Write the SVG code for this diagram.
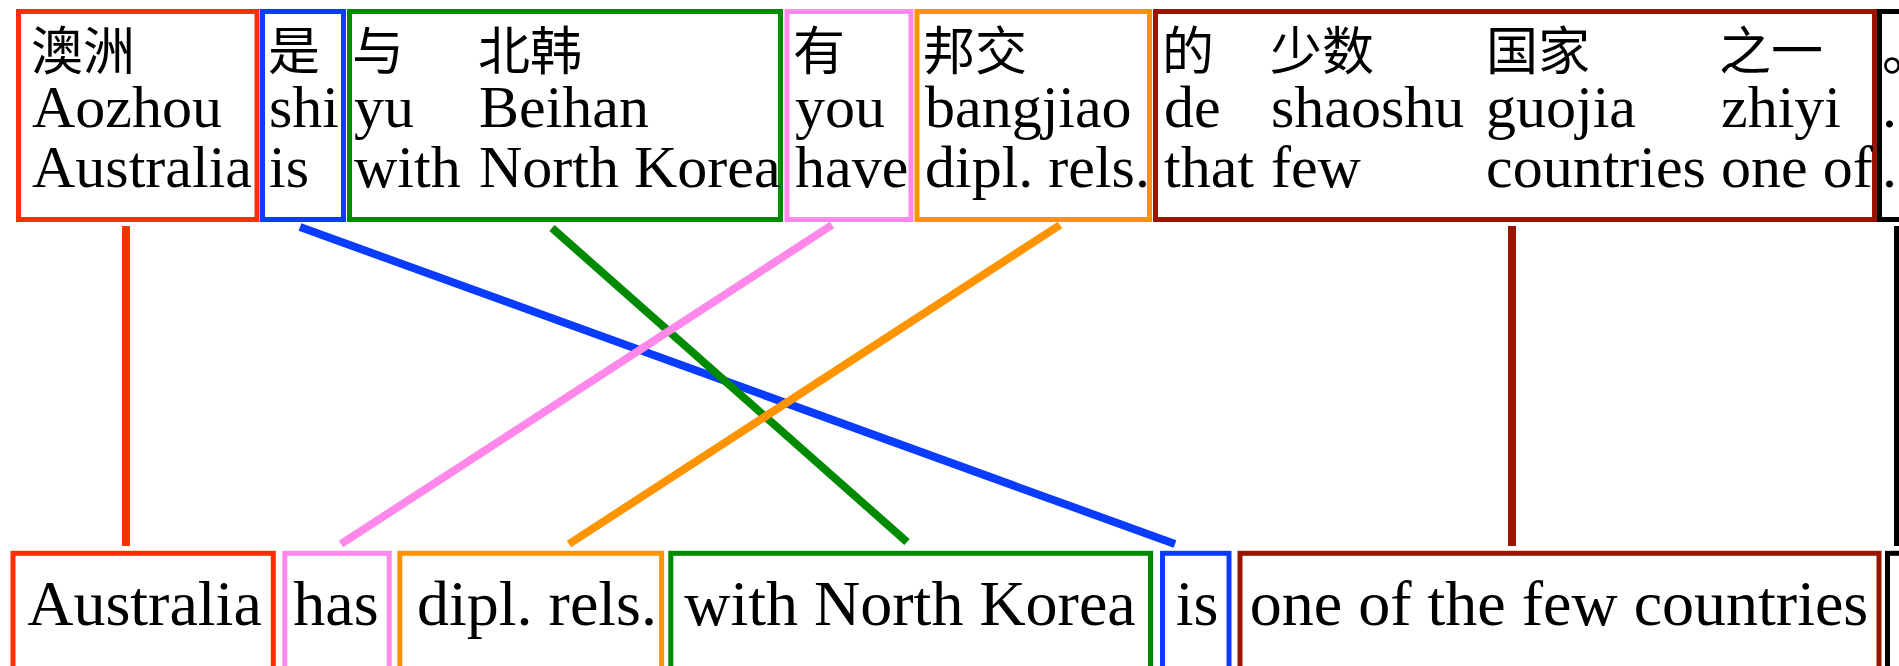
<svg xmlns="http://www.w3.org/2000/svg" width="1899" height="666" viewBox="0 0 1899 666">
<style>
  .box { fill: none; stroke-width: 5; }
  .lat { font-family: "Liberation Serif", "Times New Roman", serif; font-size: 60px; fill: #000; }
  .cjk { font-family: "Noto Sans CJK SC", "Noto Sans", sans-serif; font-size: 52px; fill: #000; }
  .bot { font-family: "Liberation Serif", "Times New Roman", serif; font-size: 64px; fill: #000; text-anchor: middle; }
  .con line { stroke-width: 8; stroke-linecap: butt; }
  .red { stroke: #ff2e00; }
  .blue { stroke: #0a3cff; }
  .green { stroke: #008a00; }
  .pink { stroke: #ff88ea; }
  .orange { stroke: #ff9400; }
  .dred { stroke: #991500; }
  .black { stroke: #000; }
</style>
<rect width="1899" height="666" fill="#fff"/>

<!-- Source (top) nodes -->
<g id="src-aozhou">
  <rect class="box red" x="18.5" y="11.5" width="238.5" height="208"/>
  <text class="cjk" x="31" y="70">澳洲</text>
  <text class="lat" x="32" y="127">Aozhou</text>
  <text class="lat" x="32" y="187">Australia</text>
</g>
<g id="src-shi">
  <rect class="box blue" x="262.5" y="11.5" width="81" height="208"/>
  <text class="cjk" x="268" y="70">是</text>
  <text class="lat" x="269" y="127">shi</text>
  <text class="lat" x="269" y="187">is</text>
</g>
<g id="src-yu-beihan">
  <rect class="box green" x="349.5" y="11.5" width="431" height="208"/>
  <text class="cjk" x="352" y="70">与</text>
  <text class="lat" x="354" y="127">yu</text>
  <text class="lat" x="354" y="187">with</text>
  <text class="cjk" x="478" y="70">北韩</text>
  <text class="lat" x="479" y="127">Beihan</text>
  <text class="lat" x="479" y="187">North Korea</text>
</g>
<g id="src-you">
  <rect class="box pink" x="787" y="11.5" width="124" height="208"/>
  <text class="cjk" x="793" y="70">有</text>
  <text class="lat" x="795" y="127">you</text>
  <text class="lat" x="795" y="187">have</text>
</g>
<g id="src-bangjiao">
  <rect class="box orange" x="917" y="11.5" width="232.5" height="208"/>
  <text class="cjk" x="923" y="70">邦交</text>
  <text class="lat" x="925" y="127">bangjiao</text>
  <text class="lat" x="925" y="187">dipl. rels.</text>
</g>
<g id="src-de-zhiyi">
  <rect class="box dred" x="1155.5" y="11.5" width="719" height="208"/>
  <text class="cjk" x="1162" y="70">的</text>
  <text class="lat" x="1164" y="127">de</text>
  <text class="lat" x="1164" y="187">that</text>
  <text class="cjk" x="1270" y="70">少数</text>
  <text class="lat" x="1271" y="127">shaoshu</text>
  <text class="lat" x="1271" y="187">few</text>
  <text class="cjk" x="1486" y="70">国家</text>
  <text class="lat" x="1486" y="127">guojia</text>
  <text class="lat" x="1486" y="187">countries</text>
  <text class="cjk" x="1719" y="70">之一</text>
  <text class="lat" x="1721" y="127">zhiyi</text>
  <text class="lat" x="1721" y="187">one of</text>
</g>
<g id="src-period">
  <rect class="box black" x="1879.5" y="11.5" width="80" height="208"/>
  <text class="cjk" x="1882" y="70">。</text>
  <text class="lat" x="1882" y="127">.</text>
  <text class="lat" x="1882" y="187">.</text>
</g>

<!-- Target (bottom) nodes -->
<g id="tgt-australia">
  <rect class="box red" x="13" y="553.3" width="260.3" height="160"/>
  <text class="bot" x="144.5" y="625">Australia</text>
</g>
<g id="tgt-has">
  <rect class="box pink" x="284.8" y="553.3" width="104.4" height="160"/>
  <text class="bot" x="336" y="625">has</text>
</g>
<g id="tgt-dipl">
  <rect class="box orange" x="399.8" y="553.3" width="261.8" height="160"/>
  <text class="bot" x="537" y="625">dipl. rels.</text>
</g>
<g id="tgt-northkorea">
  <rect class="box green" x="670.8" y="553.3" width="479.7" height="160"/>
  <text class="bot" x="910" y="625">with North Korea</text>
</g>
<g id="tgt-is">
  <rect class="box blue" x="1162.5" y="553.3" width="66.5" height="160"/>
  <text class="bot" x="1197" y="625">is</text>
</g>
<g id="tgt-countries">
  <rect class="box dred" x="1240" y="553.3" width="639" height="160"/>
  <text class="bot" x="1559" y="625">one of the few countries</text>
</g>
<g id="tgt-period">
  <rect class="box black" x="1887.5" y="553.3" width="80" height="160"/>
</g>

<!-- Connectors -->
<g id="connectors" class="con">
  <line class="red" x1="126" y1="226" x2="126" y2="546"/>
  <line class="blue" x1="300" y1="227" x2="1175" y2="544"/>
  <line class="green" x1="552" y1="228" x2="907" y2="542"/>
  <line class="pink" x1="832" y1="225" x2="341" y2="544"/>
  <line class="orange" x1="1060" y1="225" x2="569" y2="544"/>
  <line class="dred" x1="1512" y1="226" x2="1512" y2="546"/>
  <line class="black" x1="1898" y1="226" x2="1898" y2="546"/>
</g>
</svg>
